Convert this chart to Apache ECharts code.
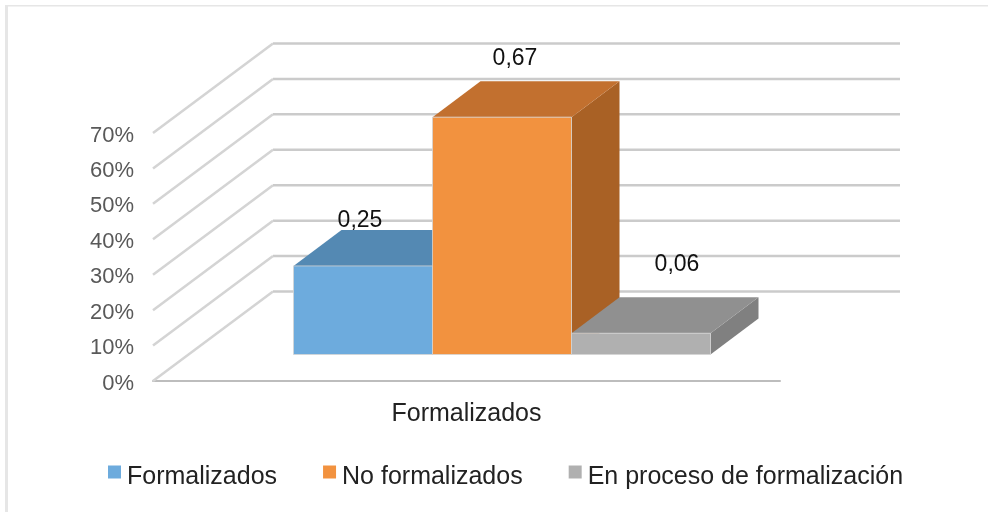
<!DOCTYPE html>
<html>
<head>
<meta charset="utf-8">
<style>html,body{margin:0;padding:0;background:#fff}#c{width:988px;height:512px}</style>
<script src="https://cdn.jsdelivr.net/npm/echarts@6/dist/echarts.min.js"></script>
</head>
<body>
<div id="c"></div>
<script>
var categories = ['Formalizados'];
var seriesNames = ['Formalizados', 'No formalizados', 'En proceso de formalización'];
var formalizados = [0.25];
var noFormalizados = [0.67];
var enProceso = [0.06];
var tickValues = [0, 0.1, 0.2, 0.3, 0.4, 0.5, 0.6, 0.7];

var FONT = '"Liberation Sans", Arial, sans-serif';
var faceColors = [
  {front: '#6dabdd', top: '#5489b3', side: '#4a7aa0'},
  {front: '#f2923f', top: '#c2702f', side: '#a96125'},
  {front: '#b0b0b0', top: '#909090', side: '#808080'}
];
var labelOffsets = [[-3, -45], [13, -58], [36, -69]];
var wallDepth = [120, -89.5];
var barInset = [35.5, -26.5];
var barDepth = [48, -36];
var barShare = 139 / 627;

function renderWall(params, api) {
  var cs = params.coordSys;
  var y = api.coord([0, api.value(0)])[1];
  var bx = cs.x + wallDepth[0], by = y + wallDepth[1];
  return {
    type: 'group',
    children: [
      {type: 'line', shape: {x1: bx, y1: by, x2: bx + cs.width, y2: by},
       style: {stroke: '#cbcbcb', lineWidth: 2.5}},
      {type: 'line', shape: {x1: cs.x, y1: y, x2: bx, y2: by},
       style: {stroke: '#d4d4d4', lineWidth: 2.5}}
    ]
  };
}

function makeBarRenderer(index) {
  return function (params, api) {
    var val = api.value(1);
    var top = api.coord([api.value(0), val]);
    var base = api.coord([api.value(0), 0]);
    var bw = api.size([1, 0])[0] * barShare;
    var x0 = top[0] + (index - 1.5) * bw + barInset[0];
    var x1 = x0 + bw;
    var yT = top[1] + barInset[1];
    var yB = base[1] + barInset[1];
    var dx = barDepth[0], dy = barDepth[1];
    var c = faceColors[index];
    var off = labelOffsets[index];
    return {
      type: 'group',
      children: [
        {type: 'polygon', shape: {points: [[x1, yT], [x1 + dx, yT + dy], [x1 + dx, yB + dy], [x1, yB]]},
         style: {fill: c.side}},
        {type: 'polygon', shape: {points: [[x0, yT], [x0 + dx, yT + dy], [x1 + dx, yT + dy], [x1, yT]]},
         style: {fill: c.top}},
        {type: 'rect', shape: {x: x0, y: yT, width: bw, height: yB - yT},
         style: {fill: c.front, stroke: '#d4d4d4', lineWidth: 0.8}},
        {type: 'text', z2: 10, style: {
          x: (x0 + x1) / 2 + off[0], y: yT + off[1],
          text: val.toFixed(2).replace('.', ','),
          fill: '#111', font: '23px ' + FONT, align: 'center', verticalAlign: 'middle'
        }}
      ]
    };
  };
}

var valueSets = [formalizados, noFormalizados, enProceso];
var series = [{
  name: 'walls', type: 'custom', silent: true, z: 1,
  coordinateSystem: 'cartesian2d',
  renderItem: renderWall,
  encode: {x: 1, y: 0},
  data: tickValues.map(function (v) { return [v, categories[0]]; })
}];
seriesNames.forEach(function (name, i) {
  series.push({
    name: name, type: 'custom', z: 2 + i,
    coordinateSystem: 'cartesian2d',
    renderItem: makeBarRenderer(i),
    itemStyle: {color: faceColors[i].front},
    encode: {x: 0, y: 1},
    data: valueSets[i].map(function (v, k) { return [k, v]; })
  });
});

var chart = echarts.init(document.getElementById('c'), null, {renderer: 'canvas'});
chart.setOption({
  animation: false,
  backgroundColor: '#fff',
  graphic: [
    {type: 'rect', silent: true, shape: {x: 5, y: 5, width: 983, height: 1.5}, style: {fill: '#e6e6e6'}},
    {type: 'rect', silent: true, shape: {x: 5, y: 5, width: 3, height: 507}, style: {fill: '#e6e6e6'}}
  ],
  grid: {left: 153, top: 133, width: 627, height: 248},
  xAxis: {
    type: 'category', data: categories,
    axisTick: {show: false},
    axisLine: {show: true, lineStyle: {color: '#bdbdbd', width: 2}},
    axisLabel: {color: '#222', fontSize: 25, fontFamily: FONT, margin: 21}
  },
  yAxis: {
    type: 'value', min: 0, max: 0.7, interval: 0.1,
    axisLine: {show: false}, axisTick: {show: false}, splitLine: {show: false},
    axisLabel: {
      margin: 19,
      formatter: function (v) { return '{t|' + Math.round(v * 100) + '%}'; },
      rich: {t: {color: '#595959', fontSize: 22, fontFamily: FONT, padding: [5, 0, 0, 0]}}
    }
  },
  legend: {
    data: seriesNames.map(function (n) { return {name: n, icon: 'rect'}; }),
    left: 103, top: 460, orient: 'horizontal',
    itemWidth: 13, itemHeight: 13, itemGap: 46,
    formatter: function (n) { return '{t|' + n + '}'; },
    textStyle: {
      rich: {t: {color: '#222', fontSize: 25, fontFamily: FONT, padding: [11, 0, 0, 1]}}
    },
    selectedMode: false
  },
  series: series
});
</script>
</body>
</html>
